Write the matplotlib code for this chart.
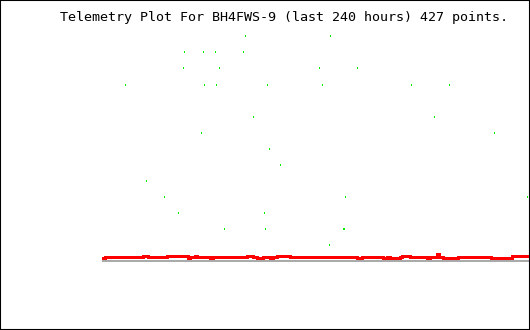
import matplotlib
matplotlib.use("Agg")
import matplotlib.pyplot as plt
from matplotlib.patches import Rectangle

title = "Telemetry Plot For BH4FWS-9 (last 240 hours) 427 points."

# green channel: hour, level (discrete steps)
green_hours = [80.5, 128.3, 46.3, 56.9, 63.7, 79.4, 45.7, 65.9, 122.1, 143.5,
               13.1, 57.5, 64.2, 92.9, 123.8, 173.9, 195.2, 85.0, 186.8, 55.8,
               220.5, 94.0, 100.2, 24.9, 35.0, 136.8, 239.1, 42.9, 91.2, 68.7,
               91.8, 135.6, 136.1, 127.8]
green_level = [14, 14, 13, 13, 13, 13, 12, 12, 12, 12,
               11, 11, 11, 11, 11, 11, 11, 9, 9, 8,
               8, 7, 6, 5, 4, 4, 4, 3, 3, 2,
               2, 2, 2, 1]

# red channel, step values
red_hours = [0, 1.7, 23.0, 25.9, 36.5, 48.3, 49.5, 52.3, 53.4, 60.7, 62.4, 81.5,
             84.9, 87.1, 90.5, 94.4, 96.1, 98.4, 105.7, 143.3, 146.2, 158.0,
             160.2, 161.9, 167.5, 168.6, 173.1, 182.7, 184.4, 188.3, 189.4,
             191.7, 200.1, 213.0, 218.7, 230.5, 240]
red_level = [.16, .22, .28, .22, .28, .16, .22, .31, .22, .16, .22, .28,
             .22, .16, .22, .16, .22, .28, .22, .16, .22, .16,
             .22, .16, .22, .28, .22, .16, .22, .42, .22,
             .16, .22, .25, .19, .28, .28]

base_hours = [0, 240]
base_level = [0, 0]

fig = plt.figure(figsize=(5.3, 3.3), dpi=100)
fig.patch.set_facecolor("white")
ax = fig.add_axes([0, 0, 1, 1])
ax.set_xlim(-57.38, 240.56)
ax.set_ylim(-4.34, 16.28)
ax.axis("off")

ax.plot(base_hours, base_level, color="#aaaaaa", lw=1.44, solid_capstyle="butt",
        antialiased=False)
ax.plot(red_hours, red_level, color="#ff0000", lw=1.9, drawstyle="steps-post",
        solid_capstyle="butt", solid_joinstyle="miter", antialiased=False)
dot = [(-0.5, -1), (0.5, -1), (0.5, 1), (-0.5, 1), (-0.5, -1)]
ax.plot(green_hours, green_level, linestyle="none", marker=dot, markersize=1.44,
        markeredgewidth=0, color="#00ee00", antialiased=False)

fig.text(60 / 530, 1 - 20.5 / 330, title, family="DejaVu Sans Mono",
         fontsize=9.63, va="baseline", ha="left", color="black")

fig.patches.append(Rectangle((0, 0), 1, 1, transform=fig.transFigure,
                             fill=False, edgecolor="black", lw=1.5))

fig.savefig("out.png", dpi=100)
